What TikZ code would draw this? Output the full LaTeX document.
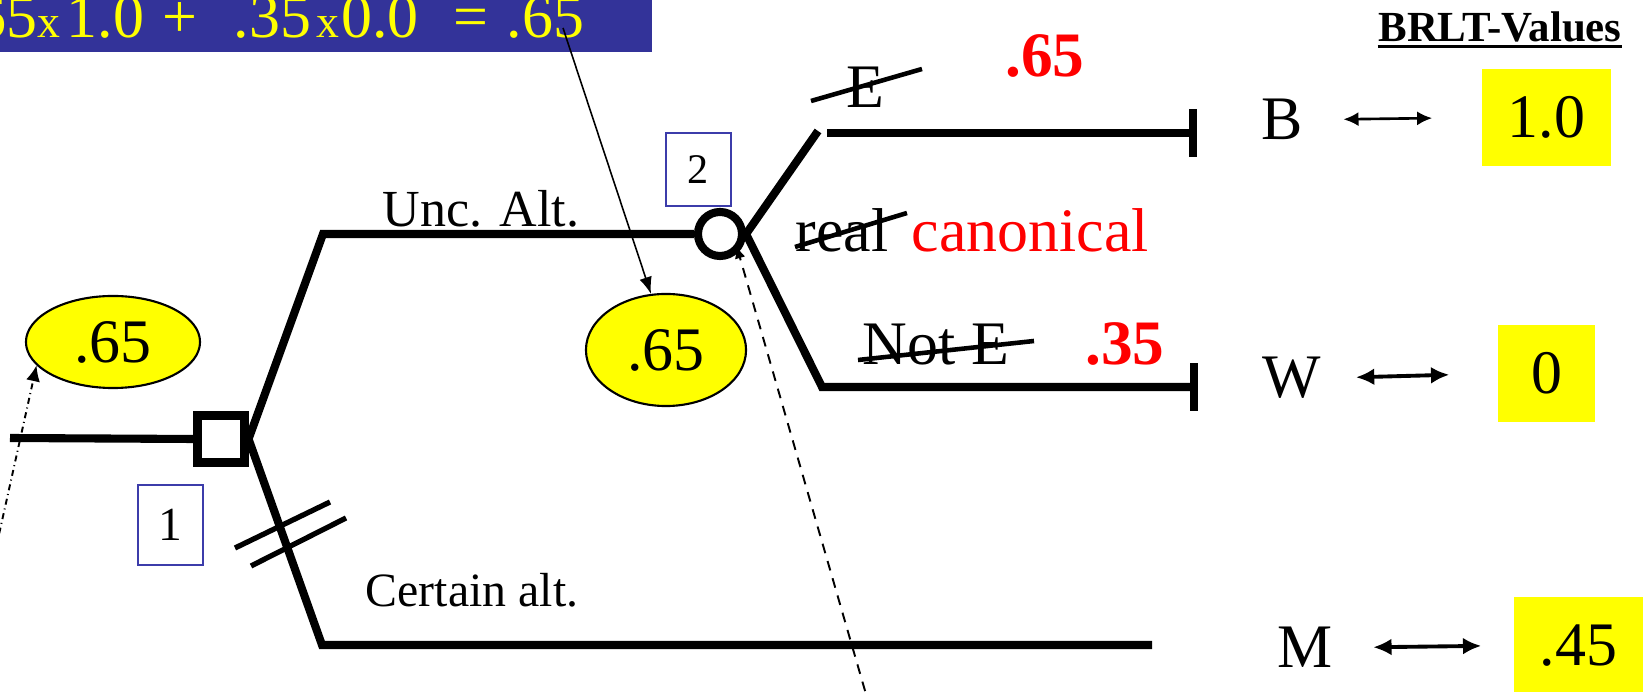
\documentclass[tikz,border=0pt]{standalone}
\usepackage{fontspec}
\setmainfont{Liberation Serif}
\usepackage{xcolor}
\definecolor{bannerblue}{RGB}{51,51,153}
\definecolor{frameblue}{RGB}{60,60,170}
\definecolor{valyellow}{RGB}{255,255,0}
\definecolor{probred}{RGB}{255,0,0}
\usepackage{tikz}
\usetikzlibrary{
  arrows.meta,
  positioning,
  shapes.geometric
}
\newcommand{\fsz}[1]{\fontsize{#1}{#1}\selectfont}
\tikzset{
  branch/.style={line width=2.3pt},
  endbar/.style={-{Bar[width=13.4pt]}},
  decbox/.style={draw, line width=2.3pt, fill=white,
    minimum size=0.47cm, inner sep=0pt},
  chancecirc/.style={draw, circle, line width=2.3pt, fill=white,
    minimum size=0.44cm, inner sep=0pt},
  numbox/.style={draw=frameblue, line width=0.6pt,
    minimum width=0.65cm, inner sep=0pt},
  evalell/.style={draw, ellipse, fill=valyellow, line width=0.6pt,
    inner sep=0pt, font=\fsz{17.6pt}},
  valbox/.style={fill=valyellow, minimum width=1.29cm,
    minimum height=0.97cm, inner sep=0pt, font=\fsz{17.6pt}},
  banner/.style={fill=bannerblue, text=valyellow, inner xsep=0.68cm,
    inner ysep=0.15cm, text depth=0pt, font=\fsz{17.6pt}},
  lbl/.style={inner sep=0pt, font=\fsz{17.6pt}},
  prob/.style={inner sep=0pt, text=probred, font=\fsz{18pt}\bfseries},
  strike/.style={line width=1.3pt},
  hash/.style={line width=1.5pt},
  arr/.style={-{Latex[length=4.8pt,width=3.6pt]}, line width=0.45pt},
  darr/.style={-{Latex[length=3.6pt,width=3pt]}, line width=0.55pt,
    dash pattern=on 2.8pt off 2.3pt},
  ddarr/.style={-{Latex[length=4.5pt,width=4pt]}, line width=0.55pt,
    dash pattern=on 1.7pt off 1.1pt on 0.3pt off 1.1pt},
  thindbl/.style={{Latex[length=4.3pt,width=4pt]}-{Latex[length=4.3pt,width=4pt]},
    line width=0.75pt},
  dbl/.style={{Latex[length=5.2pt,width=4.8pt]}-{Latex[length=5.2pt,width=4.8pt]},
    line width=1.1pt},
}

\begin{document}
\begin{tikzpicture}[x=0.01cm, y=-0.01cm]
  \useasboundingbox (0,0) rectangle (1643,692);
  \clip (0,0) rectangle (1643,692);

  % Expected value banner
  \node[banner, anchor=south west] (calc) at (-109,53)
    {.65{\fsz{13pt}x}\hspace{0.07cm}1.0\hspace{0.185cm}+\hspace{0.36cm}.35\hspace{0.055cm}{\fsz{13pt}x}\hspace{0.02cm}0.0\hspace{0.35cm}=\hspace{0.18cm}.65};
  \coordinate (calcend) at (563,28);

  % Decision tree
  \coordinate (root) at (10,438);
  \node[decbox] (dec1) at (221,439) {};
  \node[chancecirc] (chance2) at (720,234) {};
  \draw[branch] (root) -- (dec1.west);
  \draw[branch] (dec1.east) -- (323,234) -- (chance2.west);
  \draw[branch] (dec1.east) -- (322,645) -- (1152,645);
  \draw[branch] (chance2.east) -- (818,131);
  \draw[branch, endbar] (827,133) -- (1197,133);
  \draw[branch, endbar] (chance2.east) -- (822,387) -- (1198,387);

  % Cut-off marks on the certain branch
  \draw[hash] (235,548) -- (330,502);
  \draw[hash] (251,566) -- (346,518);

  \node[numbox, minimum height=0.80cm, font=\fsz{13.5pt}] (num1) at (170.5,525) {1};
  \node[numbox, minimum height=0.73cm, font=\fsz{12pt}] (num2) at (698.5,169.5) {2};

  \node[inner sep=0pt, font=\fsz{14.8pt}, anchor=base] (unc) at (481,227) {Unc. Alt.};
  \node[inner sep=0pt, font=\fsz{13.6pt}, anchor=base] (cert) at (472,607) {Certain alt.};

  % Evaluated nodes
  \node[evalell, minimum width=1.74cm, minimum height=0.92cm] (ev1) at (113,342) {.65};
  \node[evalell, minimum width=1.60cm, minimum height=1.12cm] (ev2) at (666,350) {.65};

  \coordinate (dsrc) at (885,760);
  \coordinate (lsrc) at (-20,620);
  \draw[arr] (calcend) -- (ev2.105);
  \draw[darr, shorten >=-0.07cm] (dsrc) -- (chance2.-45);
  \draw[ddarr] (lsrc) -- (ev1.197);

  % Event labels and probabilities
  \node[lbl, anchor=base] (evE) at (865,108) {E};
  \draw[strike] (811,101) -- (922,69);
  \node[prob, anchor=base] (pE) at (1045,77) {.65};
  \node[lbl, anchor=base west] (real) at (795,252) {real};
  \node[lbl, text=probred, base right=0.22cm of real] (canon) {canonical};
  \draw[strike] (795,247) -- (907,213);
  \node[lbl, anchor=base] (notE) at (936,365) {Not E};
  \draw[strike] (858,360) -- (1034,341);
  \node[prob, anchor=base] (pNE) at (1125,365) {.35};

  % BRLT values
  \node[inner sep=0pt, font=\fsz{12.2pt}\bfseries, anchor=base] (brlt) at (1500,42) {BRLT-Values};
  \draw[line width=0.85pt] ([yshift=-0.05cm]brlt.base west) -- ([yshift=-0.05cm]brlt.base east);

  \node[lbl, anchor=base] (bl) at (1282,140) {B};
  \node[valbox] (bv) at (1546.5,117.5) {1.0};
  \node[lbl, anchor=base] (wl) at (1292,398) {W};
  \node[valbox, minimum width=0.97cm] (wv) at (1546.5,373.5) {0\hspace{0.26cm}};
  \node[lbl, anchor=base] (ml) at (1305,668) {M};
  \node[valbox] (mv) at (1578.5,645.5) {.45};

  \draw[thindbl, shorten <=0.4cm, shorten >=0.49cm] (bl.east) -- (bv.west);
  \draw[dbl, shorten <=0.34cm, shorten >=0.48cm] (wl.east) -- (wv.west);
  \draw[dbl, shorten <=0.4cm, shorten >=0.32cm] (ml.east) -- (mv.west);
\end{tikzpicture}
\end{document}
